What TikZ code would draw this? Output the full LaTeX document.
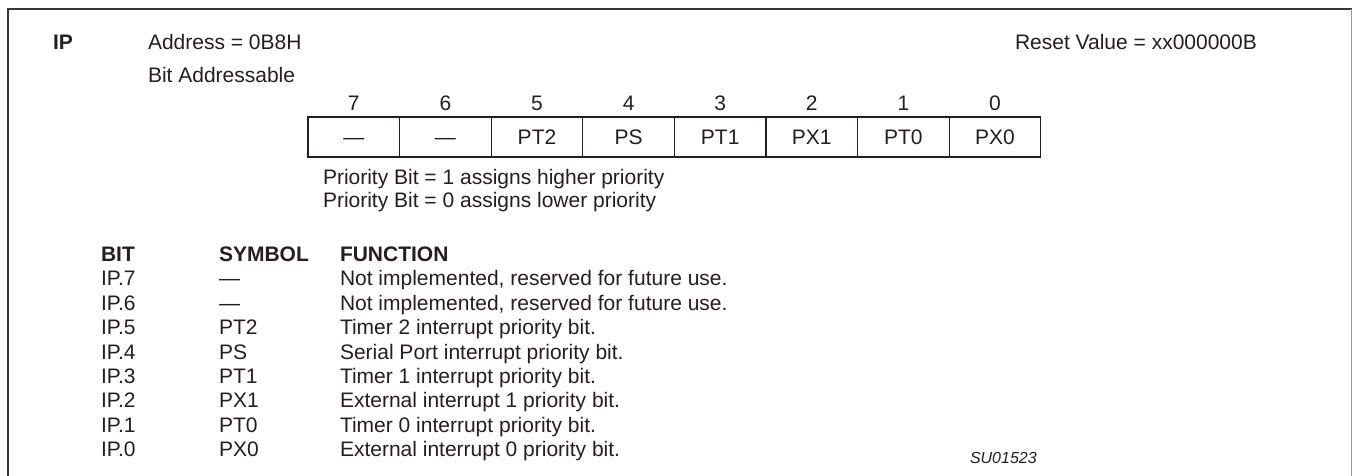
\documentclass[tikz,border=0pt]{standalone}
\usepackage{fontspec}
\setmainfont{Liberation Sans}
\usetikzlibrary{positioning}

\definecolor{ink}{HTML}{231F20}

\begin{document}
\begin{tikzpicture}[
    x=1pt, y=-1pt,
    txt/.style={anchor=west, inner sep=0pt, outer sep=0pt, text height=15pt, text depth=0pt, text=ink, font=\fontsize{21}{25}\selectfont},
    hd/.style={txt, font=\fontsize{21}{25}\selectfont\bfseries},
    row/.style={txt, anchor=north west},
    cell/.style={rectangle, draw=ink, line width=1.2pt, minimum width=91.6pt, minimum height=40pt, inner sep=0pt, outer sep=0pt, text height=15pt, text depth=0pt, text=ink, font=\fontsize{21}{25}\selectfont},
    bitnum/.style={inner sep=0pt, outer sep=0pt, text height=15pt, text depth=0pt, text=ink, font=\fontsize{21}{25}\selectfont},
    tag/.style={txt, font=\fontsize{16}{19}\selectfont\itshape}
]
\useasboundingbox (0,0) rectangle (1352,476);

% Frame
\draw[ink!90, line width=2.7pt] (6.7,9) -- (1352,9);
\draw[ink!90, line width=2pt] (8,9) -- (8,476);
\draw[black!40, line width=1pt] (1351,9) -- (1351,476);

% Heading
\node[hd] (reg) at (53,42) {IP};
\node[txt] (addr) at (148,42) {Address = 0B8H};
\node[txt] (bitaddr) at (148,75) {Bit Addressable};
\node[txt] (reset) at (1015,42) {Reset Value = xx000000B};

% Register cells
\node[cell] (b7) at (353.8,137) {---};
\node[cell, right=0pt of b7] (b6) {---};
\node[cell, right=0pt of b6] (b5) {PT2};
\node[cell, right=0pt of b5] (b4) {PS};
\node[cell, right=0pt of b4] (b3) {PT1};
\node[cell, right=0pt of b3] (b2) {PX1};
\node[cell, right=0pt of b2] (b1) {PT0};
\node[cell, right=0pt of b1] (b0) {PX0};

% Bit numbers
\node[bitnum, above=6.5pt of b7] (n7) {7};
\node[bitnum, above=6.5pt of b6] (n6) {6};
\node[bitnum, above=6.5pt of b5] (n5) {5};
\node[bitnum, above=6.5pt of b4] (n4) {4};
\node[bitnum, above=6.5pt of b3] (n3) {3};
\node[bitnum, above=6.5pt of b2] (n2) {2};
\node[bitnum, above=6.5pt of b1] (n1) {1};
\node[bitnum, above=6.5pt of b0] (n0) {0};

% Notes
\node[txt] (hi) at (323,177) {Priority Bit = 1 assigns higher priority};
\node[txt] (lo) at (323,200) {Priority Bit = 0 assigns lower priority};

% Table
\node[hd] (bithd) at (101,254) {BIT};
\node[hd] (symhd) at (219,254) {SYMBOL};
\node[hd] (funhd) at (340,254) {FUNCTION};

\node[row, below=9.4pt of bithd.south west, anchor=north west] (r7) {IP.7};
\node[row, below=9.4pt of r7.south west, anchor=north west] (r6) {IP.6};
\node[row, below=9.4pt of r6.south west, anchor=north west] (r5) {IP.5};
\node[row, below=9.4pt of r5.south west, anchor=north west] (r4) {IP.4};
\node[row, below=9.4pt of r4.south west, anchor=north west] (r3) {IP.3};
\node[row, below=9.4pt of r3.south west, anchor=north west] (r2) {IP.2};
\node[row, below=9.4pt of r2.south west, anchor=north west] (r1) {IP.1};
\node[row, below=9.4pt of r1.south west, anchor=north west] (r0) {IP.0};

\node[txt] (s7) at (r7.west -| symhd.west) {---};
\node[txt] (s6) at (r6.west -| symhd.west) {---};
\node[txt] (s5) at (r5.west -| symhd.west) {PT2};
\node[txt] (s4) at (r4.west -| symhd.west) {PS};
\node[txt] (s3) at (r3.west -| symhd.west) {PT1};
\node[txt] (s2) at (r2.west -| symhd.west) {PX1};
\node[txt] (s1) at (r1.west -| symhd.west) {PT0};
\node[txt] (s0) at (r0.west -| symhd.west) {PX0};

\node[txt] (f7) at (r7.west -| funhd.west) {Not implemented, reserved for future use.};
\node[txt] (f6) at (r6.west -| funhd.west) {Not implemented, reserved for future use.};
\node[txt] (f5) at (r5.west -| funhd.west) {Timer 2 interrupt priority bit.};
\node[txt] (f4) at (r4.west -| funhd.west) {Serial Port interrupt priority bit.};
\node[txt] (f3) at (r3.west -| funhd.west) {Timer 1 interrupt priority bit.};
\node[txt] (f2) at (r2.west -| funhd.west) {External interrupt 1 priority bit.};
\node[txt] (f1) at (r1.west -| funhd.west) {Timer 0 interrupt priority bit.};
\node[txt] (f0) at (r0.west -| funhd.west) {External interrupt 0 priority bit.};

\node[tag] (figid) at (970,456) {SU01523};

\end{tikzpicture}
\end{document}
